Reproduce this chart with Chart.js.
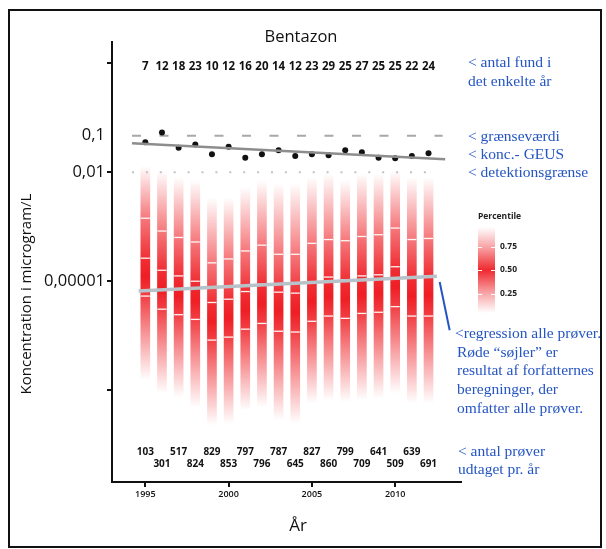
<!DOCTYPE html>
<html>
<head>
<meta charset="utf-8">
<script src="https://cdn.jsdelivr.net/npm/chart.js@4.4.1/dist/chart.umd.min.js"></script>
<style>
  html, body { margin: 0; padding: 0; background: #fff; }
  canvas { display: block; }
</style>
</head>
<body>
<canvas id="chart" width="606" height="549"></canvas>
<script>
// år og tal
const years = [1995, 1996, 1997, 1998, 1999, 2000, 2001, 2002, 2003, 2004, 2005, 2006, 2007, 2008, 2009, 2010, 2011, 2012];
const fundCounts = [7, 12, 18, 23, 10, 12, 16, 20, 14, 12, 23, 29, 25, 27, 25, 25, 22, 24];
const sampleCounts = [103, 301, 517, 824, 829, 853, 797, 796, 787, 645, 827, 860, 799, 709, 641, 509, 639, 691];

// GEUS-koncentrationer (sorte prikker)
const geusConc = [0.066, 0.124, 0.047, 0.058, 0.031, 0.050, 0.025, 0.031, 0.040, 0.028, 0.031, 0.029, 0.040, 0.035, 0.025, 0.024, 0.028, 0.033];

// røde søjler: yderpunkter og percentiler
const colTop = [1.5e-2, 1.1e-2, 7.3e-3, 6.0e-3, 2.0e-3, 2.0e-3, 3.9e-3, 6.0e-3, 5.0e-3, 5.0e-3, 7.3e-3, 9.3e-3, 6.0e-3, 9.3e-3, 9.3e-3, 1.1e-2, 7.3e-3, 7.3e-3];
const p75 = [5.4e-4, 2.4e-4, 1.6e-4, 1.2e-4, 3.2e-5, 4.1e-5, 6.8e-5, 9.8e-5, 5.5e-5, 5.5e-5, 1.1e-4, 1.4e-4, 1.3e-4, 1.7e-4, 1.9e-4, 2.9e-4, 1.4e-4, 1.5e-4];
const p50 = [4.3e-5, 2.0e-5, 1.4e-5, 1.0e-5, 2.6e-6, 3.2e-6, 5.2e-6, 8.3e-6, 5.0e-6, 4.7e-6, 9.3e-6, 1.3e-5, 1.1e-5, 1.4e-5, 1.5e-5, 2.5e-5, 1.3e-5, 1.4e-5];
const p25 = [3.9e-6, 1.7e-6, 1.2e-6, 8.9e-7, 2.4e-7, 2.9e-7, 4.8e-7, 6.9e-7, 4.2e-7, 4.0e-7, 7.9e-7, 1.1e-6, 9.5e-7, 1.3e-6, 1.4e-6, 2.0e-6, 1.1e-6, 1.1e-6];
const colBottom = [1.9e-8, 8.3e-9, 6.5e-9, 3.4e-9, 1.1e-9, 1.2e-9, 2.8e-9, 3.4e-9, 1.5e-9, 1.2e-9, 4.4e-9, 5.3e-9, 4.7e-9, 5.3e-9, 6.0e-9, 8.3e-9, 4.4e-9, 4.4e-9];

// linjer
const geusTrendX = [1994.2, 2013.0];
const geusTrendY = [0.062, 0.0228];
const allTrendX = [1994.6, 2012.5];
const allTrendY = [5.4e-6, 1.37e-5];
const limitX = [1994.2, 2012.85];
const limitY = [0.1, 0.1];
const detectX = [1994.2, 2012.4];
const detectY = [0.01, 0.01];
const pointerX = [2012.67, 2013.27];
const pointerY = [9.5e-6, 4.5e-7];

// akser
const xTicks = [1995, 2000, 2005, 2010];
const yTicks = [10, 0.1, 0.01, 1e-5, 1e-8];
const yTickLabels = ['', '0,1', '0,01', '0,00001', ''];

const RED = '238,30,36';
const BLUE = '#2455c3';

function toPoints(xs, ys) {
    return xs.map((x, i) => ({ x, y: ys[i] }));
}

function columnFill(context) {
    const chart = context.chart;
    const y = chart.scales.y;
    if (context.type !== 'data' || !chart.chartArea || !y) return `rgba(${RED},0.6)`;
    const i = context.dataIndex;
    const top = y.getPixelForValue(colTop[i]);
    const bottom = y.getPixelForValue(colBottom[i]);
    const h = bottom - top;
    const f = v => Math.min(1, Math.max(0, (y.getPixelForValue(v) - top) / h));
    const g = chart.ctx.createLinearGradient(0, top, 0, bottom);
    g.addColorStop(0, `rgba(${RED},0)`);
    g.addColorStop(f(p75[i]), `rgba(${RED},0.6)`);
    g.addColorStop(f(p50[i]), `rgba(${RED},0.92)`);
    g.addColorStop((f(p50[i]) + f(p25[i])) / 2, `rgba(${RED},1)`);
    g.addColorStop(f(p25[i]), `rgba(${RED},0.85)`);
    g.addColorStop(1, `rgba(${RED},0)`);
    return g;
}

const textPlugin = {
    id: 'bentazonText',
    afterDraw(chart) {
        const ctx = chart.ctx;
        const area = chart.chartArea;
        const xs = chart.scales.x;
        const ys = chart.scales.y;
        ctx.save();

        // ramme
        ctx.strokeStyle = '#111';
        ctx.lineWidth = 2;
        ctx.strokeRect(9, 10, 592, 537);

        ctx.fillStyle = '#111';
        ctx.textAlign = 'center';
        ctx.textBaseline = 'middle';
        ctx.font = '16.5px "Open Sans"';
        ctx.fillText('Bentazon', 301, 37);
        ctx.font = '17px "Open Sans"';
        ctx.fillText('År', 298, 526);

        ctx.save();
        ctx.translate(27, 294);
        ctx.rotate(-Math.PI / 2);
        ctx.font = '15px "Open Sans"';
        ctx.fillText('Koncentration i microgram/L', 0, 0);
        ctx.restore();

        // antal fund
        ctx.font = 'bold 11.5px "Open Sans"';
        years.forEach((yr, i) => {
            ctx.fillText(String(fundCounts[i]), xs.getPixelForValue(yr), area.top + 25);
        });
        // antal prøver
        ctx.font = 'bold 10px "Open Sans"';
        years.forEach((yr, i) => {
            const yy = i % 2 === 0 ? area.bottom - 30 : area.bottom - 18;
            ctx.fillText(String(sampleCounts[i]), xs.getPixelForValue(yr), yy);
        });

        // percentil-forklaring
        const lx = area.right + 17;
        const g = ctx.createLinearGradient(0, 227, 0, 313);
        g.addColorStop(0, `rgba(${RED},0)`);
        g.addColorStop(0.23, `rgba(${RED},0.4)`);
        g.addColorStop(0.5, `rgba(${RED},0.95)`);
        g.addColorStop(0.77, `rgba(${RED},0.4)`);
        g.addColorStop(1, `rgba(${RED},0)`);
        ctx.fillStyle = g;
        ctx.fillRect(lx, 227, 17, 86);
        ctx.strokeStyle = '#fff';
        ctx.lineWidth = 1;
        [247, 270, 294].forEach(ty => {
            ctx.beginPath();
            ctx.moveTo(lx, ty + 0.5);
            ctx.lineTo(lx + 4, ty + 0.5);
            ctx.moveTo(lx + 13, ty + 0.5);
            ctx.lineTo(lx + 17, ty + 0.5);
            ctx.stroke();
        });
        ctx.fillStyle = '#222';
        ctx.textAlign = 'left';
        ctx.font = 'bold 8.5px "Open Sans"';
        ctx.fillText('Percentile', lx, 217);
        ctx.fillText('0.75', lx + 22, 247);
        ctx.fillText('0.50', lx + 22, 270);
        ctx.fillText('0.25', lx + 22, 294);

        // blå noter
        ctx.fillStyle = BLUE;
        ctx.font = '15.5px "Liberation Serif"';
        const nx = area.right + 7;
        ctx.fillText('< antal fund i', nx, 63);
        ctx.fillText('det enkelte år', nx, 82);
        ctx.fillText('< grænseværdi', nx, ys.getPixelForValue(0.1) + 1);
        ctx.fillText('< konc.- GEUS', nx, 155);
        ctx.fillText('< detektionsgrænse', nx, ys.getPixelForValue(0.01) + 1);
        const rx = area.right - 6;
        ['<regression alle prøver.', 'Røde “søjler” er', 'resultat af forfatternes', 'beregninger, der', 'omfatter alle prøver.']
            .forEach((t, i) => ctx.fillText(t, i === 0 ? rx : rx + 2, 334 + i * 18.7));
        ctx.fillText('< antal prøver', area.right - 3, 452);
        ctx.fillText('udtaget pr. år', area.right - 3, 470);

        ctx.restore();
    }
};

new Chart(document.getElementById('chart'), {
    type: 'bar',
    data: {
        datasets: [
            {
                type: 'line', label: 'pointer', order: 0,
                data: toPoints(pointerX, pointerY),
                borderColor: BLUE, borderWidth: 2, pointRadius: 0, fill: false
            },
            {
                type: 'line', label: 'GEUS trend', order: 1,
                data: toPoints(geusTrendX, geusTrendY),
                borderColor: '#8d8d8d', borderWidth: 2.5, pointRadius: 0, fill: false
            },
            {
                type: 'line', label: 'GEUS', order: 2,
                data: toPoints(years, geusConc),
                showLine: false, pointRadius: 3, pointBackgroundColor: '#111', pointBorderWidth: 0
            },
            {
                type: 'line', label: 'grænseværdi', order: 3,
                data: toPoints(limitX, limitY),
                borderColor: '#a8a8a8', borderWidth: 2, borderDash: [9, 18.5], pointRadius: 0, fill: false
            },
            {
                type: 'line', label: 'detektionsgrænse', order: 4,
                data: toPoints(detectX, detectY),
                borderColor: '#c2c2c2', borderWidth: 2, borderDash: [2, 11.9], pointRadius: 0, fill: false
            },
            {
                type: 'line', label: 'regression alle', order: 5,
                data: toPoints(allTrendX, allTrendY),
                borderColor: '#b7c2c9', borderWidth: 3.5, pointRadius: 0, fill: false
            },
            {
                type: 'line', label: 'percentiler', order: 6,
                data: years.flatMap((yr, i) => [{ x: yr, y: p75[i] }, { x: yr, y: p50[i] }, { x: yr, y: p25[i] }]),
                showLine: false, pointStyle: 'line', pointRadius: 4.5,
                pointBorderColor: 'rgba(255,255,255,0.95)', pointBorderWidth: 1.3
            },
            {
                type: 'bar', label: 'søjler', order: 7,
                data: years.map((yr, i) => ({ x: yr, y: [colBottom[i], colTop[i]] })),
                backgroundColor: columnFill, borderWidth: 0, barThickness: 9
            }
        ]
    },
    options: {
        responsive: false,
        animation: false,
        devicePixelRatio: 1,
        layout: { padding: { left: 42, top: 42, right: 145, bottom: 42 } },
        plugins: {
            legend: { display: false },
            tooltip: { enabled: false }
        },
        scales: {
            x: {
                type: 'linear',
                min: 1993,
                max: 2013.95,
                offset: false,
                bounds: 'data',
                grid: { offset: false, drawOnChartArea: false, drawTicks: true, tickLength: 5, color: '#111', lineWidth: 2 },
                border: { display: true, color: '#111', width: 2 },
                ticks: {
                    padding: 2,
                    color: '#111',
                    font: { family: 'Open Sans', size: 9, weight: '600' },
                    callback: v => String(v)
                },
                afterBuildTicks: scale => { scale.ticks = xTicks.map(v => ({ value: v })); },
                afterFit: scale => { scale.height = 25; scale.paddingLeft = 0; scale.paddingRight = 0; }
            },
            y: {
                type: 'logarithmic',
                min: 3e-11,
                max: 38,
                bounds: 'data',
                grid: {
                    drawOnChartArea: false, drawTicks: true, tickLength: 5, lineWidth: 2,
                    tickColor: c => (c.tick && c.tick.value === 0.1 ? 'rgba(0,0,0,0)' : '#111')
                },
                border: { display: true, color: '#111', width: 2 },
                ticks: {
                    padding: 2,
                    color: '#111',
                    font: { family: 'Open Sans', size: 16.5 },
                    callback: v => {
                        const k = yTicks.indexOf(v);
                        return k >= 0 ? yTickLabels[k] : '';
                    }
                },
                afterBuildTicks: scale => { scale.ticks = yTicks.map(v => ({ value: v })); },
                afterFit: scale => { scale.width = 70; scale.paddingTop = 0; scale.paddingBottom = 0; }
            }
        }
    },
    plugins: [textPlugin]
});
</script>
</body>
</html>
